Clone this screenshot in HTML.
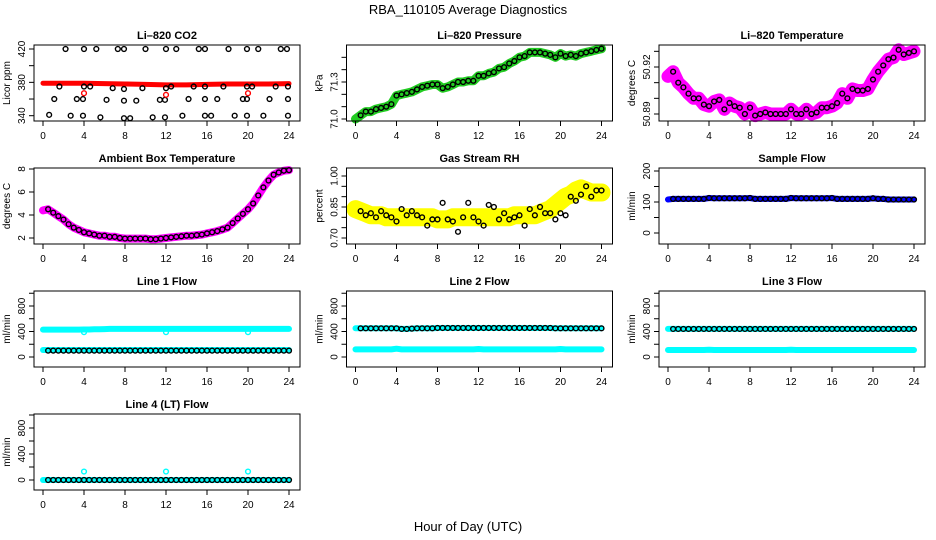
<!DOCTYPE html>
<html><head><meta charset="utf-8"><style>
html,body{margin:0;padding:0;background:#fff}
svg{display:block;font-family:"Liberation Sans",sans-serif}
</style></head><body>
<svg id="chart" width="936" height="540" viewBox="0 0 936 540" xmlns="http://www.w3.org/2000/svg">
<text x="468" y="14" text-anchor="middle" font-size="13">RBA_110105  Average Diagnostics</text>
<text x="468" y="531" text-anchor="middle" font-size="13">Hour of Day (UTC)</text>
</svg>
<script>
// ---- data (half-hourly, hour 0..24) ----
const xTicks = [0,4,8,12,16,20,24];
const co2Band = [379,379,379,378.5,378,377.5,377,377,377.5,378,378,378,378.5];
const co2Hi = [2.2,4,5.2,7.3,7.9,10,12,13,15.2,15.8,18.1,19.9,21,23.2,23.8];
const co2Mid = [1.6,4,4.6,6.8,7.9,9.7,12,12.5,14.7,15.8,17.6,19.9,20.4,22.7,23.9];
const co2MidVals = [375,375,375,373,372,373,373,375,375,375,375,375,375,375,375];
const co2Low = [1.1,3.3,3.9,6.2,7.9,9.1,11.4,11.9,14.2,15.8,17,19.5,19.9,22.1,23.9];
const co2LowVals = [360,360,360,359,358,358,359,359,360,360,360,360,360,360,360];
const co2Bot = [0.6,2.7,3.9,5.6,7.9,8.5,10.7,11.9,13.6,15.8,16.4,18.7,19.9,21.5,23.9];
const co2BotVals = [341,340,340,338,337,337,338,338,340,340,340,340,340,340,340];
const co2RedOut = [4,12,20];
const co2RedOutVals = [367,365,367];
const pressure = [71.0,71.03,71.06,71.06,71.08,71.09,71.10,71.12,71.19,71.20,71.21,71.22,71.24,71.26,71.27,71.28,71.28,71.25,71.26,71.28,71.30,71.30,71.31,71.31,71.35,71.35,71.37,71.38,71.41,71.42,71.45,71.47,71.50,71.51,71.54,71.54,71.54,71.53,71.52,71.50,71.53,71.51,71.52,71.51,71.53,71.54,71.55,71.56,71.57];
const licorTemp = [50.914,50.917,50.910,50.907,50.903,50.900,50.900,50.896,50.895,50.898,50.899,50.893,50.897,50.895,50.894,50.890,50.894,50.889,50.890,50.891,50.890,50.890,50.890,50.890,50.893,50.890,50.890,50.893,50.890,50.891,50.894,50.894,50.895,50.897,50.903,50.900,50.906,50.905,50.905,50.906,50.912,50.917,50.921,50.925,50.926,50.931,50.928,50.929,50.930];
const boxTemp = [4.4,4.5,4.2,3.9,3.6,3.2,2.9,2.7,2.5,2.4,2.3,2.2,2.2,2.1,2.1,2.0,1.95,1.95,1.95,1.95,1.95,1.9,1.9,1.95,2.0,2.05,2.1,2.15,2.2,2.2,2.25,2.3,2.4,2.5,2.6,2.75,2.9,3.3,3.7,4.1,4.5,5.0,5.7,6.4,7.0,7.5,7.7,7.85,7.9];
const rhBlack = [0.86,0.83,0.81,0.82,0.80,0.83,0.81,0.80,0.78,0.84,0.81,0.83,0.81,0.80,0.76,0.79,0.79,0.87,0.79,0.78,0.73,0.80,0.87,0.80,0.78,0.76,0.86,0.85,0.79,0.82,0.79,0.80,0.81,0.76,0.84,0.81,0.85,0.82,0.82,0.79,0.82,0.81,0.90,0.88,0.91,0.95,0.90,0.93,0.93];
const rhYellow = [0.84,0.83,0.82,0.81,0.81,0.81,0.80,0.80,0.80,0.80,0.80,0.80,0.80,0.80,0.80,0.80,0.79,0.79,0.79,0.80,0.80,0.80,0.80,0.80,0.80,0.80,0.80,0.80,0.80,0.80,0.80,0.81,0.81,0.81,0.81,0.81,0.82,0.83,0.84,0.86,0.88,0.90,0.91,0.93,0.94,0.93,0.92,0.92,0.92];
const sampleFlow = [108,110,110,110,110,110,110,110,113,112,112,112,112,112,112,112,113,110,110,110,110,110,110,110,113,112,112,112,112,112,112,112,113,110,110,110,110,110,110,110,112,110,110,108,108,108,108,108,108];
const line1Hi = [430,430,430,430,430,430,430,430,432,432,435,435,438,440,440,440,440,440,440,440,440,440,440,440,440,440,440,440,440,440,440,440,440,440,440,440,440,440,440,440,440,440,440,440,440,440,440,440,440];
const line1Lo = [110,110,110,110,110,110,110,110,110,110,110,110,110,110,110,110,110,110,110,110,110,110,110,110,110,110,110,110,110,110,110,110,110,110,110,110,110,110,110,110,110,110,110,110,110,110,110,110,110];
const line1Black = [100,100,100,100,100,100,100,100,100,100,100,100,100,100,100,100,100,100,100,100,100,100,100,100,100,100,100,100,100,100,100,100,100,100,100,100,100,100,100,100,100,100,100,100,100,100,100,100,100];
const line1Out = [4,12,20];
const line1OutVals = [390,390,390];
const line2Hi = [450,450,450,450,450,450,450,450,450,440,440,445,450,450,450,450,455,455,455,455,455,455,455,455,455,455,455,455,455,455,455,455,455,455,455,455,455,455,455,450,450,450,450,450,450,450,450,450,450];
const line2Lo = [120,120,120,120,120,120,120,120,130,120,120,120,120,120,120,120,120,120,120,120,120,120,120,120,125,120,120,120,120,120,120,120,120,120,120,120,120,120,120,120,125,120,120,120,120,120,120,120,120];
const line3Hi = [440,440,440,440,440,440,440,440,440,440,440,440,440,440,440,440,440,440,440,440,440,440,440,440,440,440,440,440,440,440,440,440,440,440,440,440,440,440,440,440,440,440,440,440,440,440,440,440,440];
const line3Lo = [110,110,110,110,110,110,110,110,115,110,110,110,110,110,110,110,110,110,110,110,110,110,110,110,115,110,110,110,110,110,110,110,110,110,110,110,110,110,110,110,110,110,110,110,110,110,110,110,110];
const line4 = [0,0,0,0,0,0,0,0,0,0,0,0,0,0,0,0,0,0,0,0,0,0,0,0,0,0,0,0,0,0,0,0,0,0,0,0,0,0,0,0,0,0,0,0,0,0,0,0,0];
const line4Out = [4,12,20];
const line4OutVals = [130,130,130];

const NS = "http://www.w3.org/2000/svg";
const svg = document.getElementById('chart');
const rowTop = [45,168,291,414];
const BOXH = 76, BOXW = 266;
function mk(tag, attrs, parent){const e=document.createElementNS(NS,tag);for(const k in attrs)e.setAttribute(k,attrs[k]);(parent||svg).appendChild(e);return e;}
function halfHours(n){const a=[];for(let i=0;i<n;i++)a.push(i*0.5);return a;}

function panel(name,col,row,title,ylab,cal,ticks,labels){
  const left = 34 + 312.5*col, top = rowTop[row];
  const g = mk('g',{});
  
  
  const x = h => left + 9 + h*10.25;
  const y = v => cal[1] + (v-cal[0])*(cal[3]-cal[1])/(cal[2]-cal[0]);
  const plot = mk('g',{},g);
  
  
  const box = mk('rect',{x:left,y:top,width:BOXW,height:BOXH,fill:'none',stroke:'#000','stroke-width':1},g);
  
  
  const t = mk('text',{x:left+BOXW/2,y:top-6,'text-anchor':'middle','font-size':11,'font-weight':'bold'},g);
  t.textContent = title;
  
  
  const yl = mk('text',{x:0,y:0,'text-anchor':'middle','font-size':10,transform:`translate(${left-24},${top+BOXH/2}) rotate(-90)`},g);
  yl.textContent = ylab;
  
  
  xTicks.forEach(v=>{
    const tk = mk('line',{x1:x(v),x2:x(v),y1:top+BOXH,y2:top+BOXH+5,stroke:'#000'},g);
    
    
    const tl = mk('text',{x:x(v),y:top+BOXH+18,'text-anchor':'middle','font-size':10},g);
    tl.textContent = v;
    
    
  });
  ticks.forEach(v=>{
    const tk = mk('line',{x1:left-5,x2:left,y1:y(v),y2:y(v),stroke:'#000'},g);
    
    
  });
  labels.forEach(v=>{
    const tl = mk('text',{x:0,y:0,'text-anchor':'middle','font-size':10,transform:`translate(${left-9},${y(v)}) rotate(-90)`},g);
    tl.textContent = v;
    
    
  });
  return {plot,x,y,name};
}
function band(p,hs,vs,color,w){
  const pts = hs.map((h,i)=>p.x(h).toFixed(1)+','+p.y(vs[i]).toFixed(1)).join(' ');
  const pl = mk('polyline',{points:pts,fill:'none',stroke:color,'stroke-width':w,'stroke-linejoin':'round','stroke-linecap':'round'},p.plot);
  
  
}
function dots(p,hs,vs,color,label){
  hs.forEach((h,i)=>{
    const c = mk('circle',{cx:p.x(h),cy:p.y(vs[i]),r:2.4,fill:'none',stroke:color,'stroke-width':1.4},p.plot);
    
    
  });
}
const H = halfHours(49);
const Hb = H.slice(1);
const H2 = []; for(let i=0;i<13;i++) H2.push(i*2);

// CO2
let p = panel('co2',0,0,'Li\u2013820 CO2','Licor ppm',[340,115.7,420,49],[340,360,380,400,420],[340,380,420]);
band(p,H2,co2Band,'#ff0000',5);
dots(p,co2Hi,co2Hi.map(()=>420),'#000','co2-point');
dots(p,co2Mid,co2MidVals,'#000','co2-point');
dots(p,co2Low,co2LowVals,'#000','co2-point');
dots(p,co2Bot,co2BotVals,'#000','co2-point');
dots(p,co2RedOut,co2RedOutVals,'#ff0000','co2-red-point');

// Pressure
p = panel('pressure',1,0,'Li\u2013820 Pressure','kPa',[71.0,119,71.3,82],[71.0,71.1,71.2,71.3,71.4,71.5],['71.0','71.3']);
band(p,H,pressure,'#22cc22',9);
dots(p,Hb,pressure.slice(1),'#000','pressure-point');

// Licor temperature
p = panel('licor-temp',2,0,'Li\u2013820 Temperature','degrees C',[50.89,114,50.92,67],[50.89,50.90,50.91,50.92,50.93],['50.89','50.92']);
band(p,H,licorTemp,'#ff00ff',13);
dots(p,Hb,licorTemp.slice(1),'#000','licor-temp-point');

// Ambient box temp
p = panel('box-temp',0,1,'Ambient Box Temperature','degrees C',[2,238,8,169],[2,4,6,8],[2,4,6,8]);
band(p,H,boxTemp,'#ff00ff',8);
dots(p,Hb,boxTemp.slice(1),'#000','box-temp-point');

// RH
p = panel('rh',1,1,'Gas Stream RH','percent',[0.70,238,1.00,176],[0.70,0.75,0.80,0.85,0.90,0.95,1.00],['0.70','0.85','1.00']);
band(p,H,rhYellow,'#ffff00',18);
dots(p,Hb,rhBlack.slice(1),'#000','rh-point');

// Sample flow
p = panel('sample-flow',2,1,'Sample Flow','ml/min',[0,233,200,171],[0,50,100,150,200],[0,100,200]);
band(p,H,sampleFlow,'#0000ff',6);
dots(p,Hb,sampleFlow.slice(1),'#000','sample-flow-point');

const flowTicks=[0,200,400,600,800,1000], flowLabels=[0,400,800];
// Line 1
p = panel('line1-flow',0,2,'Line 1 Flow','ml/min',[0,357,800,306],flowTicks,flowLabels);
band(p,H,line1Hi,'#00ffff',6);
band(p,H,line1Lo,'#00ffff',6);
dots(p,line1Out,line1OutVals,'#00ffff','line1-outlier');
dots(p,Hb,line1Black.slice(1),'#000','line1-point');
// Line 2
p = panel('line2-flow',1,2,'Line 2 Flow','ml/min',[0,357,800,306],flowTicks,flowLabels);
band(p,H,line2Hi,'#00ffff',6);
band(p,H,line2Lo,'#00ffff',6);
dots(p,Hb,line2Hi.slice(1),'#000','line2-point');
// Line 3
p = panel('line3-flow',2,2,'Line 3 Flow','ml/min',[0,357,800,306],flowTicks,flowLabels);
band(p,H,line3Hi,'#00ffff',6);
band(p,H,line3Lo,'#00ffff',6);
dots(p,Hb,line3Hi.slice(1),'#000','line3-point');
// Line 4
p = panel('line4-flow',0,3,'Line 4 (LT) Flow','ml/min',[0,480,800,428],flowTicks,flowLabels);
band(p,H,line4,'#00ffff',6);
dots(p,line4Out,line4OutVals,'#00ffff','line4-outlier');
dots(p,Hb,line4.slice(1),'#000','line4-point');
</script>
</body></html>
